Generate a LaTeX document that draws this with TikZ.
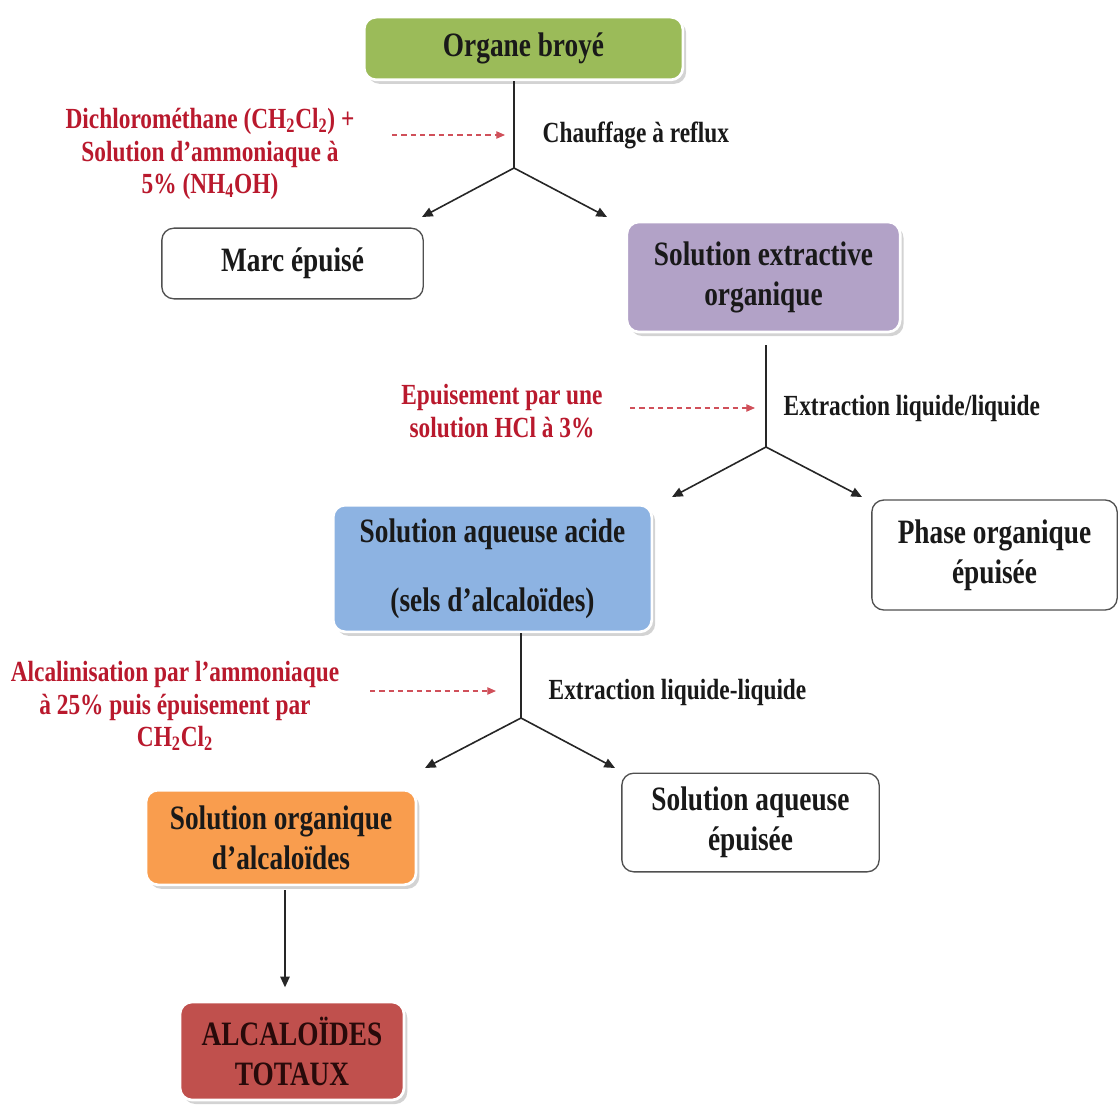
\documentclass[tikz,border=0pt]{standalone}
\usepackage{fontspec}
\setmainfont[FakeStretch=0.8]{Liberation Serif}
\usetikzlibrary{arrows.meta,shadows,calc}
\definecolor{cgreen}{RGB}{155,187,89}
\definecolor{cpurple}{RGB}{178,162,199}
\definecolor{cblue}{RGB}{141,179,226}
\definecolor{corange}{RGB}{249,157,78}
\definecolor{cred}{RGB}{192,80,77}
\definecolor{labred}{RGB}{185,25,45}
\definecolor{dashred}{RGB}{208,80,90}
\definecolor{txt}{RGB}{25,25,25}
\definecolor{bordergray}{RGB}{80,80,80}
\tikzset{
  boxtext/.style={font=\fontsize{25.6}{30}\selectfont\bfseries, text=txt, align=center},
  colbox/.style={boxtext, rounded corners=9pt, draw=white, line width=2pt,
     drop shadow={opacity=0.35, shadow xshift=2.5pt, shadow yshift=-3pt}},
  whitebox/.style={boxtext, rounded corners=9pt, draw=bordergray, line width=1pt, fill=white},
  redlab/.style={font=\fontsize{21.9}{24.5}\selectfont\bfseries, text=labred, align=center},
  steplab/.style={font=\fontsize{21.9}{24.5}\selectfont\bfseries, text=txt, anchor=west},
  arr/.style={draw=black!85, line width=1.2pt, -{Triangle[length=8pt,width=7pt]}},
  plainline/.style={draw=black!85, line width=1.2pt},
  dasharr/.style={draw=dashred, line width=0.9pt, dash pattern=on 4pt off 3pt, -{Triangle[length=6.5pt,width=5.5pt]}}
}
\begin{document}
\begin{tikzpicture}[x=0.75pt,y=-0.75pt]
\useasboundingbox (0,0) rectangle (1120,1116);
% boxes
\node[colbox, fill=cgreen, minimum width=239pt, minimum height=47pt] (organe) at (523.5,48.5) {Organe broyé};
\node[whitebox, minimum width=196pt, minimum height=53pt] (marc) at (292.5,263.5) {Marc épuisé};
\node[colbox, fill=cpurple, minimum width=205pt, minimum height=82.5pt] (seo) at (763.5,277) {Solution extractive\\organique};
\node[whitebox, minimum width=184pt, minimum height=82.5pt] (phase) at (994.5,555) {Phase organique\\épuisée};
\node[colbox, fill=cblue, minimum width=239pt, minimum height=95pt] (saa) at (492.5,568.5) {Solution aqueuse acide\\[22pt](sels d’alcaloïdes)};
\node[whitebox, minimum width=193pt, minimum height=74pt] (sae) at (750.5,822.5) {Solution aqueuse\\épuisée};
\node[colbox, fill=corange, minimum width=202.5pt, minimum height=71pt] (soa) at (281,837.5) {Solution organique\\d’alcaloïdes};
\node[colbox, fill=cred, minimum width=168pt, minimum height=73.5pt, text={rgb,255:red,40;green,10;blue,10}] (alc) at (292,1051) {ALCALOÏDES\\TOTAUX};
% red labels
\node[redlab] (lab1) at (210,154) {Dichlorométhane (CH\textsubscript{2}Cl\textsubscript{2}) +\\Solution d’ammoniaque à\\5\% (NH\textsubscript{4}OH)};
\node[redlab] (lab2) at (502,411) {Epuisement par une\\solution HCl à 3\%};
\node[redlab] (lab3) at (175,706) {Alcalinisation par l’ammoniaque\\à 25\% puis épuisement par\\CH\textsubscript{2}Cl\textsubscript{2}};
% step labels
\node[steplab] (st1) at (538,135) {Chauffage à reflux};
\node[steplab] (st2) at (779,408) {Extraction liquide/liquide};
\node[steplab] (st3) at (544,692) {Extraction liquide-liquide};
% junctions and arrow ends
\coordinate (j1) at (514,168);
\coordinate (a1) at (422,217);
\coordinate (a2) at (607,217);
\coordinate (j2) at (766,447);
\coordinate (a3) at (672,497);
\coordinate (a4) at (862,497);
\coordinate (j3) at (521,718);
\coordinate (a5) at (425,768);
\coordinate (a6) at (615,768);
\coordinate (d1s) at (392,135);
\coordinate (d1e) at (505,135);
\coordinate (d2s) at (630,408);
\coordinate (d2e) at (755,408);
\coordinate (d3s) at (370,691);
\coordinate (d3e) at (496,691);
% connectors
\draw[plainline] (organe.south -| j1) -- (j1);
\draw[arr] (j1) -- (a1);
\draw[arr] (j1) -- (a2);
\draw[plainline, shorten <=9pt] (seo.south -| j2) -- (j2);
\draw[arr] (j2) -- (a3);
\draw[arr] (j2) -- (a4);
\draw[plainline] (saa.south -| j3) -- (j3);
\draw[arr] (j3) -- (a5);
\draw[arr] (j3) -- (a6);
\draw[arr, shorten <=3pt, shorten >=10pt] ([xshift=3pt]soa.south) -- ([xshift=3pt]soa.south |- alc.north);
\draw[dasharr] (d1s) -- (d1e);
\draw[dasharr] (d2s) -- (d2e);
\draw[dasharr] (d3s) -- (d3e);
\end{tikzpicture}
\end{document}
